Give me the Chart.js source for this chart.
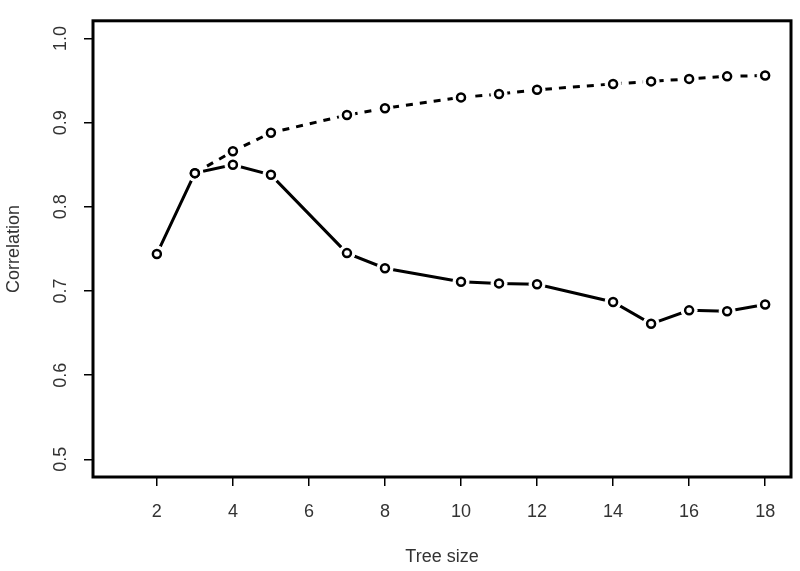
<!DOCTYPE html>
<html>
<head>
<meta charset="utf-8">
<script src="https://cdn.jsdelivr.net/npm/chart.js@4"></script>
<style>
  html, body { margin: 0; padding: 0; background: #fff; }
  #wrap { width: 800px; height: 571px; }
</style>
</head>
<body>
<div id="wrap"><canvas id="corrChart" width="800" height="571"></canvas></div>
<script>
// Correlation vs tree size

const treeSizes = [2, 3, 4, 5, 7, 8, 10, 11, 12, 14, 15, 16, 17, 18];
const testCorr = [0.744, 0.840, 0.850, 0.838, 0.745, 0.727, 0.711, 0.709, 0.708, 0.687, 0.661, 0.677, 0.676, 0.684];

const trainSizes = [3, 4, 5, 7, 8, 10, 11, 12, 14, 15, 16, 17, 18];
const trainCorr = [0.840, 0.866, 0.888, 0.909, 0.917, 0.930, 0.934, 0.939, 0.946, 0.949, 0.952, 0.955, 0.956];

const xTicks = [2, 4, 6, 8, 10, 12, 14, 16, 18];
const yTicks = [0.5, 0.6, 0.7, 0.8, 0.9, 1.0];

function toPoints(xs, ys) {
    return xs.map(function(x, i) { return { x: x, y: ys[i] }; });
}

const testPts = toPoints(treeSizes, testCorr);
const trainPts = toPoints(trainSizes, trainCorr);

// white discs under the markers give the R "type = b" gaps
function lineSet(data, dash, order) {
    return { data: data, showLine: true, borderColor: '#000', borderWidth: 3, borderDash: dash,
             pointRadius: 0, pointHoverRadius: 0, fill: false, tension: 0, order: order };
}
function haloSet(data, order) {
    return { data: data, showLine: false, pointStyle: 'circle', pointRadius: 8, pointHoverRadius: 8,
             backgroundColor: '#fff', borderColor: '#fff', borderWidth: 1,
             pointBackgroundColor: '#fff', pointBorderWidth: 1, pointBorderColor: '#fff', order: order };
}
function ringSet(data, order) {
    return { data: data, showLine: false, pointRadius: 4, pointHoverRadius: 4,
             pointBackgroundColor: '#fff', pointBorderColor: '#000', pointBorderWidth: 2.5, order: order };
}

const boxPlugin = {
    id: 'box',
    afterDatasetsDraw: function(chart) {
        const a = chart.chartArea;
        const ctx = chart.ctx;
        ctx.save();
        ctx.strokeStyle = '#000';
        ctx.lineWidth = 3;
        ctx.strokeRect(a.left, a.top, a.right - a.left, a.bottom - a.top);
        ctx.restore();
    }
};

const labelFont = { family: 'Liberation Sans, Arial, sans-serif', size: 18 };

new Chart(document.getElementById('corrChart'), {
    type: 'scatter',
    data: {
        datasets: [
            lineSet(testPts, [], 6),
            haloSet(testPts, 5),
            lineSet(trainPts, [7, 7], 4),
            haloSet(trainPts, 3),
            ringSet(testPts, 2),
            ringSet(trainPts, 1)
        ]
    },
    options: {
        responsive: false,
        animation: false,
        layout: { padding: { top: 7, right: 8, left: 0, bottom: 0 } },
        plugins: { legend: { display: false }, tooltip: { enabled: false } },
        scales: {
            x: {
                type: 'linear',
                min: 0.32,
                max: 18.68,
                afterBuildTicks: function(scale) { scale.ticks = xTicks.map(function(v) { return { value: v }; }); },
                afterFit: function(scale) { scale.height = 94; },
                border: { display: false },
                grid: { drawOnChartArea: false, tickLength: 9, color: '#000', lineWidth: 1.5 },
                ticks: { color: '#333', font: labelFont, padding: 15, maxRotation: 0 },
                title: { display: true, text: 'Tree size', color: '#333', font: labelFont, padding: { top: 0, bottom: 3 } }
            },
            y: {
                type: 'linear',
                min: 0.479,
                max: 1.021,
                afterBuildTicks: function(scale) { scale.ticks = yTicks.map(function(v) { return { value: v }; }); },
                afterFit: function(scale) { scale.width = 93; },
                border: { display: false },
                grid: { drawOnChartArea: false, tickLength: 9, color: '#000', lineWidth: 1.5 },
                ticks: {
                    color: '#333', font: labelFont, padding: 10, minRotation: 90, maxRotation: 90,
                    crossAlign: 'center',
                    callback: function(v) { return v.toFixed(1); }
                },
                title: { display: true, text: 'Correlation', color: '#333', font: labelFont, padding: { top: 3, bottom: 0 } }
            }
        }
    },
    plugins: [boxPlugin]
});
</script>
</body>
</html>
